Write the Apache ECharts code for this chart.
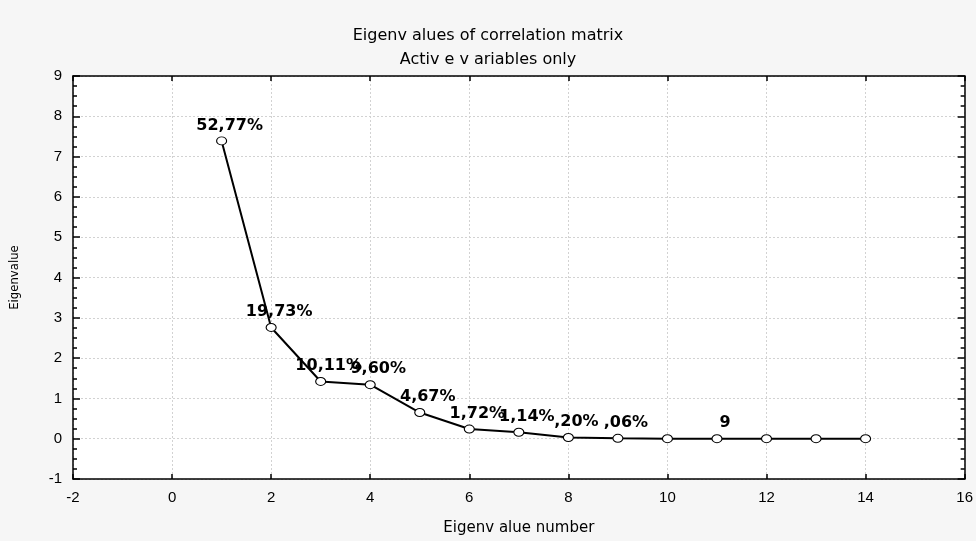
<!DOCTYPE html>
<html lang="en">
<head>
    <meta charset="UTF-8">
    <title>Eigenvalues of correlation matrix</title>
    <script src="https://cdn.jsdelivr.net/npm/echarts@6/dist/echarts.min.js"></script>
    <style>
        html, body { margin: 0; padding: 0; background: #f6f6f6; }
        #chart { width: 976px; height: 541px; }
    </style>
</head>
<body>
<div id="chart"></div>
<script>
    // eigenvalue number and eigenvalue
    var eigenNumbers = [1, 2, 3, 4, 5, 6, 7, 8, 9, 10, 11, 12, 13, 14];
    var eigenValues = [7.39, 2.76, 1.42, 1.34, 0.65, 0.24, 0.16, 0.03, 0.01, 0.0, 0.0, 0.0, 0.0, 0.0];
    var pctLabels = ['52,77%', '19,73%', '10,11%', '9,60%', '4,67%', '1,72%', '1,14%', ',20%', ',06%', '', '9', '', '', ''];
    var xTicks = [-2, 0, 2, 4, 6, 8, 10, 12, 14, 16];
    var yTicks = [-1, 0, 1, 2, 3, 4, 5, 6, 7, 8, 9];

    var font = '"Liberation Sans", Arial, sans-serif';
    var chart = echarts.init(document.getElementById('chart'));

    var points = eigenNumbers.map(function (n, i) {
        return [n, eigenValues[i]];
    });

    var dotted = { show: true, lineStyle: { color: '#d2d2d2', type: [2, 2], width: 1 } };
    var blackLine = { show: true, onZero: false, lineStyle: { color: '#000', width: 1.5 } };

    var option = {
        backgroundColor: '#f6f6f6',
        animation: false,
        title: {
            text: 'Eigenv alues of correlation matrix\nActiv e v ariables only',
            left: 'center',
            top: 19,
            textStyle: {
                fontFamily: '"DejaVu Sans", sans-serif',
                fontSize: 16,
                fontWeight: 'normal',
                color: '#000',
                lineHeight: 24
            }
        },
        grid: {
            left: 73, right: 11, top: 76, bottom: 62,
            show: true, backgroundColor: '#fff', borderWidth: 0
        },
        xAxis: [{
            type: 'value',
            min: xTicks[0],
            max: xTicks[xTicks.length - 1],
            interval: 2,
            position: 'bottom',
            name: 'Eigenv alue number',
            nameLocation: 'middle',
            nameGap: 42,
            nameTextStyle: { fontFamily: '"DejaVu Sans", sans-serif', fontSize: 15, color: '#000' },
            axisLine: blackLine,
            axisTick: { show: true, inside: true, length: 5, lineStyle: { color: '#000', width: 1.5 } },
            axisLabel: { margin: 11, fontFamily: font, fontSize: 15, color: '#000' },
            splitLine: dotted
        }, {
            type: 'value',
            min: xTicks[0],
            max: xTicks[xTicks.length - 1],
            interval: 2,
            position: 'top',
            axisLine: blackLine,
            axisTick: { show: true, inside: true, length: 5, lineStyle: { color: '#000', width: 1.5 } },
            axisLabel: { show: false },
            splitLine: { show: false }
        }],
        yAxis: [{
            type: 'value',
            min: yTicks[0],
            max: yTicks[yTicks.length - 1],
            interval: 1,
            position: 'left',
            name: 'Eigenvalue',
            nameLocation: 'middle',
            nameGap: 52,
            nameTextStyle: { fontFamily: '"Liberation Sans Narrow", "DejaVu Sans Condensed", sans-serif', fontSize: 13, color: '#000' },
            axisLine: blackLine,
            axisTick: { show: true, inside: true, length: 7, lineStyle: { color: '#000', width: 1.5 } },
            minorTick: { show: true, splitNumber: 4, length: 4, lineStyle: { color: '#000', width: 1.5 } },
            axisLabel: { margin: 11, fontFamily: font, fontSize: 15, color: '#000' },
            splitLine: dotted
        }, {
            type: 'value',
            min: yTicks[0],
            max: yTicks[yTicks.length - 1],
            interval: 1,
            position: 'right',
            axisLine: blackLine,
            axisTick: { show: true, inside: true, length: 7, lineStyle: { color: '#000', width: 1.5 } },
            minorTick: { show: true, splitNumber: 4, length: 4, lineStyle: { color: '#000', width: 1.5 } },
            axisLabel: { show: false },
            splitLine: { show: false }
        }],
        series: [{
            type: 'line',
            data: points,
            xAxisIndex: 0,
            yAxisIndex: 0,
            symbol: 'circle',
            symbolSize: [10, 8],
            showAllSymbol: true,
            lineStyle: { color: '#000', width: 2 },
            itemStyle: { color: '#fff', borderColor: '#000', borderWidth: 1 },
            label: {
                show: true,
                position: 'top',
                distance: 3,
                offset: [8, 0],
                fontFamily: '"DejaVu Sans", sans-serif',
                fontWeight: 'bold',
                fontSize: 16,
                color: '#000',
                formatter: function (p) {
                    return pctLabels[p.dataIndex];
                }
            }
        }]
    };

    chart.setOption(option);
</script>
</body>
</html>
